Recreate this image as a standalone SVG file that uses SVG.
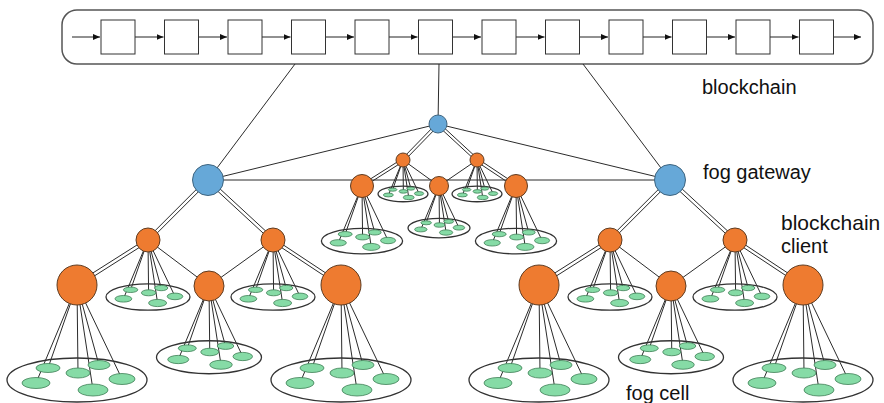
<svg xmlns="http://www.w3.org/2000/svg" xmlns:xlink="http://www.w3.org/1999/xlink" width="884" height="403" viewBox="0 0 884 403">
<style>
.bar{fill:#fff;stroke:#555;stroke-width:1.5}
.blk{fill:#fff;stroke:#333;stroke-width:1}
.ar{stroke:#222;stroke-width:1;fill:none}
.ln{stroke:#2b2b2b;stroke-width:1;fill:none}
.blue{fill:#66A8D8;stroke:#3f6580;stroke-width:1}
.or{fill:#EE7B30;stroke:#5e3c22;stroke-width:1}
.lbl{font-family:"Liberation Sans",Arial,sans-serif;font-size:20px;fill:#111}
</style>
<defs>
<marker id="ah" markerWidth="7" markerHeight="6" refX="7" refY="3" orient="auto" markerUnits="userSpaceOnUse">
<path d="M0,0 L7,3 L0,6 z" fill="#111"/>
</marker>
<g id="fan" stroke="#2b2b2b" stroke-width="1" fill="none">
<line x1="0" y1="-95" x2="-29" y2="-12" vector-effect="non-scaling-stroke"/>
<line x1="0" y1="-95" x2="1" y2="-7" vector-effect="non-scaling-stroke"/>
<line x1="0" y1="-95" x2="22" y2="-15" vector-effect="non-scaling-stroke"/>
<line x1="0" y1="-95" x2="-41" y2="3" vector-effect="non-scaling-stroke"/>
<line x1="0" y1="-95" x2="16" y2="10" vector-effect="non-scaling-stroke"/>
<line x1="0" y1="-95" x2="45" y2="-1" vector-effect="non-scaling-stroke"/>
</g>
<g id="cell">
<ellipse rx="70" ry="22" fill="none" stroke="#333" stroke-width="1.3" vector-effect="non-scaling-stroke"/>
<g fill="#86DBA6" stroke="#3f7f56" stroke-width="0.8">
<ellipse cx="-29" cy="-12" rx="12" ry="4.5" vector-effect="non-scaling-stroke"/>
<ellipse cx="22" cy="-15" rx="11" ry="4.5" vector-effect="non-scaling-stroke"/>
<ellipse cx="1" cy="-7" rx="12" ry="5" vector-effect="non-scaling-stroke"/>
<ellipse cx="45" cy="-1" rx="13" ry="5.5" vector-effect="non-scaling-stroke"/>
<ellipse cx="-41" cy="3" rx="14" ry="5.5" vector-effect="non-scaling-stroke"/>
<ellipse cx="16" cy="10" rx="15" ry="6" vector-effect="non-scaling-stroke"/>
</g>
</g>
</defs>
<rect width="884" height="403" fill="#fff"/>

<g id="blockchain">
<rect class="bar" x="62" y="10" width="811" height="54" rx="15"/>
</g>

<g id="connectors">
<g class="ar">
<line x1="72" y1="37" x2="100" y2="37" marker-end="url(#ah)"/>
<line x1="135" y1="37" x2="163.5" y2="37" marker-end="url(#ah)"/>
<line x1="198.5" y1="37" x2="227" y2="37" marker-end="url(#ah)"/>
<line x1="262" y1="37" x2="290.5" y2="37" marker-end="url(#ah)"/>
<line x1="325.5" y1="37" x2="354" y2="37" marker-end="url(#ah)"/>
<line x1="389" y1="37" x2="417.5" y2="37" marker-end="url(#ah)"/>
<line x1="452.5" y1="37" x2="481" y2="37" marker-end="url(#ah)"/>
<line x1="516" y1="37" x2="544.5" y2="37" marker-end="url(#ah)"/>
<line x1="579.5" y1="37" x2="608" y2="37" marker-end="url(#ah)"/>
<line x1="643" y1="37" x2="671.5" y2="37" marker-end="url(#ah)"/>
<line x1="706.5" y1="37" x2="735" y2="37" marker-end="url(#ah)"/>
<line x1="770" y1="37" x2="798.5" y2="37" marker-end="url(#ah)"/>
<line x1="833.5" y1="37" x2="861" y2="37" marker-end="url(#ah)"/>
</g>
<g class="ln">
<line x1="295" y1="64" x2="208" y2="180"/>
<line x1="439" y1="64" x2="438" y2="124"/>
<line x1="583" y1="64" x2="670" y2="180"/>
<line x1="438" y1="124" x2="208" y2="180"/>
<line x1="438" y1="124" x2="670" y2="180"/>
<line x1="208" y1="180" x2="670" y2="180"/>
<!-- left cluster -->
<line x1="209.1" y1="181.1" x2="149.1" y2="241.1"/>
<line x1="206.9" y1="178.9" x2="146.9" y2="238.9"/>
<line x1="147.1" y1="238.6" x2="76.1" y2="283.6"/>
<line x1="148.9" y1="241.4" x2="77.9" y2="286.4"/>
<line x1="206.9" y1="181.2" x2="271.9" y2="241.2"/>
<line x1="209.1" y1="178.8" x2="274.1" y2="238.8"/>
<line x1="272.1" y1="241.3" x2="340.1" y2="286.3"/>
<line x1="273.9" y1="238.7" x2="341.9" y2="283.7"/>
<line x1="148" y1="240" x2="209" y2="286"/>
<line x1="273" y1="240" x2="209" y2="286"/>
<!-- right cluster -->
<line x1="671.1" y1="181.1" x2="611.1" y2="241.1"/>
<line x1="668.9" y1="178.9" x2="608.9" y2="238.9"/>
<line x1="609.1" y1="238.6" x2="538.1" y2="283.6"/>
<line x1="610.9" y1="241.4" x2="539.9" y2="286.4"/>
<line x1="668.9" y1="181.2" x2="733.9" y2="241.2"/>
<line x1="671.1" y1="178.8" x2="736.1" y2="238.8"/>
<line x1="734.1" y1="241.3" x2="802.1" y2="286.3"/>
<line x1="735.9" y1="238.7" x2="803.9" y2="283.7"/>
<line x1="610" y1="240" x2="671" y2="286"/>
<line x1="735" y1="240" x2="671" y2="286"/>
<!-- center cluster -->
<line x1="437" y1="123" x2="402" y2="159"/>
<line x1="439" y1="125" x2="404" y2="161"/>
<line x1="402.25" y1="158.8" x2="361.25" y2="184.8"/>
<line x1="403.75" y1="161.2" x2="362.75" y2="187.2"/>
<line x1="437.05" y1="125.03" x2="476.05" y2="161.03"/>
<line x1="438.95" y1="122.97" x2="477.95" y2="158.97"/>
<line x1="476.2" y1="161.2" x2="515.2" y2="187.2"/>
<line x1="477.8" y1="158.8" x2="516.8" y2="184.8"/>
<line x1="403" y1="160" x2="439" y2="186"/>
<line x1="477" y1="160" x2="439" y2="186"/>
</g>
<use href="#fan" transform="translate(148,297) scale(0.6)"/>
<use href="#fan" transform="translate(273,297) scale(0.6)"/>
<use href="#fan" transform="translate(77,380)"/>
<use href="#fan" transform="translate(209,357.25) scale(0.75)"/>
<use href="#fan" transform="translate(341,380)"/>
<use href="#fan" transform="translate(610,297) scale(0.6)"/>
<use href="#fan" transform="translate(735,297) scale(0.6)"/>
<use href="#fan" transform="translate(539,380)"/>
<use href="#fan" transform="translate(671,357.25) scale(0.75)"/>
<use href="#fan" transform="translate(803,380)"/>
<use href="#fan" transform="translate(403,193.9) scale(0.357)"/>
<use href="#fan" transform="translate(477,193.9) scale(0.357)"/>
<use href="#fan" transform="translate(362,241.1) scale(0.58)"/>
<use href="#fan" transform="translate(439,228.1) scale(0.443)"/>
<use href="#fan" transform="translate(516,241.1) scale(0.58)"/>
</g>

<g id="blocks">
<g id="block-1"><rect class="blk" x="101" y="20" width="34" height="34"/></g>
<g id="block-2"><rect class="blk" x="164.5" y="20" width="34" height="34"/></g>
<g id="block-3"><rect class="blk" x="228" y="20" width="34" height="34"/></g>
<g id="block-4"><rect class="blk" x="291.5" y="20" width="34" height="34"/></g>
<g id="block-5"><rect class="blk" x="355" y="20" width="34" height="34"/></g>
<g id="block-6"><rect class="blk" x="418.5" y="20" width="34" height="34"/></g>
<g id="block-7"><rect class="blk" x="482" y="20" width="34" height="34"/></g>
<g id="block-8"><rect class="blk" x="545.5" y="20" width="34" height="34"/></g>
<g id="block-9"><rect class="blk" x="609" y="20" width="34" height="34"/></g>
<g id="block-10"><rect class="blk" x="672.5" y="20" width="34" height="34"/></g>
<g id="block-11"><rect class="blk" x="736" y="20" width="34" height="34"/></g>
<g id="block-12"><rect class="blk" x="799.5" y="20" width="34" height="34"/></g>
</g>

<g id="gateway-top"><circle class="blue" cx="438" cy="124" r="9"/></g>
<g id="gateway-left"><circle class="blue" cx="208" cy="180" r="15.5"/></g>
<g id="gateway-right"><circle class="blue" cx="670" cy="180" r="15.5"/></g>

<g id="cell-l1"><use href="#cell" transform="translate(148,297) scale(0.6)"/><circle class="or" cx="148" cy="240" r="12"/></g>
<g id="cell-l2"><use href="#cell" transform="translate(273,297) scale(0.6)"/><circle class="or" cx="273" cy="240" r="12"/></g>
<g id="cell-l3"><use href="#cell" transform="translate(77,380)"/><circle class="or" cx="77" cy="285" r="20"/></g>
<g id="cell-l4"><use href="#cell" transform="translate(209,357.25) scale(0.75)"/><circle class="or" cx="209" cy="286" r="15"/></g>
<g id="cell-l5"><use href="#cell" transform="translate(341,380)"/><circle class="or" cx="341" cy="285" r="20"/></g>

<g id="cell-r1"><use href="#cell" transform="translate(610,297) scale(0.6)"/><circle class="or" cx="610" cy="240" r="12"/></g>
<g id="cell-r2"><use href="#cell" transform="translate(735,297) scale(0.6)"/><circle class="or" cx="735" cy="240" r="12"/></g>
<g id="cell-r3"><use href="#cell" transform="translate(539,380)"/><circle class="or" cx="539" cy="285" r="20"/></g>
<g id="cell-r4"><use href="#cell" transform="translate(671,357.25) scale(0.75)"/><circle class="or" cx="671" cy="286" r="15"/></g>
<g id="cell-r5"><use href="#cell" transform="translate(803,380)"/><circle class="or" cx="803" cy="285" r="20"/></g>

<g id="cell-c1"><use href="#cell" transform="translate(403,193.9) scale(0.357)"/><circle class="or" cx="403" cy="160" r="7"/></g>
<g id="cell-c2"><use href="#cell" transform="translate(477,193.9) scale(0.357)"/><circle class="or" cx="477" cy="160" r="7"/></g>
<g id="cell-c3"><use href="#cell" transform="translate(362,241.1) scale(0.58)"/><circle class="or" cx="362" cy="186" r="11.5"/></g>
<g id="cell-c4"><use href="#cell" transform="translate(439,228.1) scale(0.443)"/><circle class="or" cx="439" cy="186" r="9.5"/></g>
<g id="cell-c5"><use href="#cell" transform="translate(516,241.1) scale(0.58)"/><circle class="or" cx="516" cy="186" r="11.5"/></g>

<g id="labels">
<text class="lbl" x="702" y="94">blockchain</text>
<text class="lbl" x="703" y="179">fog gateway</text>
<text class="lbl" x="781" y="230" style="font-size:21px">blockchain</text>
<text class="lbl" x="781" y="253">client</text>
<text class="lbl" x="626" y="400">fog cell</text>
</g>
</svg>
